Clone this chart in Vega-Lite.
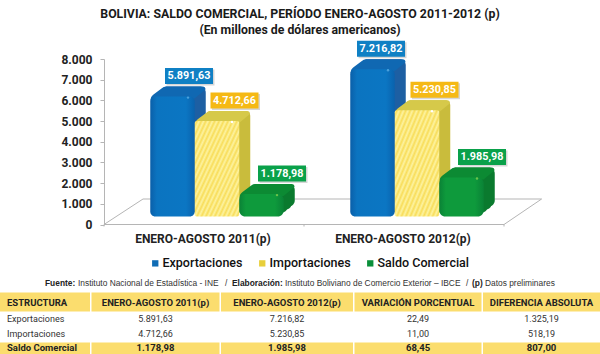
{
"$schema":"https://vega.github.io/schema/vega-lite/v6.json",
"padding":{"top":8,"left":0,"right":0,"bottom":0},
"background":"white",
"bounds":"flush",
"spacing":67.5,
"config":{"view":{"stroke":null},"font":"Roboto"},
"datasets":{
"barras":[
{"periodo":"ENERO-AGOSTO 2011(p)","serie":"Exportaciones","valor":5891.63,"etiqueta":"5.891,63"},
{"periodo":"ENERO-AGOSTO 2011(p)","serie":"Importaciones","valor":4712.66,"etiqueta":"4.712,66"},
{"periodo":"ENERO-AGOSTO 2011(p)","serie":"Saldo Comercial","valor":1178.98,"etiqueta":"1.178,98"},
{"periodo":"ENERO-AGOSTO 2012(p)","serie":"Exportaciones","valor":7216.82,"etiqueta":"7.216,82"},
{"periodo":"ENERO-AGOSTO 2012(p)","serie":"Importaciones","valor":5230.85,"etiqueta":"5.230,85"},
{"periodo":"ENERO-AGOSTO 2012(p)","serie":"Saldo Comercial","valor":1985.98,"etiqueta":"1.985,98"}
],
"tabla":[
{"fila":"h","col":"c1","t":"ESTRUCTURA"},{"fila":"a","col":"c1","t":"Exportaciones"},{"fila":"b","col":"c1","t":"Importaciones"},{"fila":"s","col":"c1","t":"Saldo Comercial"},
{"fila":"h","col":"c2","t":"ENERO-AGOSTO 2011(p)"},{"fila":"a","col":"c2","t":"5.891,63"},{"fila":"b","col":"c2","t":"4.712,66"},{"fila":"s","col":"c2","t":"1.178,98"},
{"fila":"h","col":"c3","t":"ENERO-AGOSTO 2012(p)"},{"fila":"a","col":"c3","t":"7.216,82"},{"fila":"b","col":"c3","t":"5.230,85"},{"fila":"s","col":"c3","t":"1.985,98"},
{"fila":"h","col":"c4","t":"VARIACIÓN PORCENTUAL"},{"fila":"a","col":"c4","t":"22,49"},{"fila":"b","col":"c4","t":"11,00"},{"fila":"s","col":"c4","t":"68,45"},
{"fila":"h","col":"c5","t":"DIFERENCIA ABSOLUTA"},{"fila":"a","col":"c5","t":"1.325,19"},{"fila":"b","col":"c5","t":"518,19"},{"fila":"s","col":"c5","t":"807,00"}
]},
"vconcat":[
{
"width":600,"height":165.5,
"title":{"text":["BOLIVIA: SALDO COMERCIAL, PERÍODO ENERO-AGOSTO 2011-2012 (p)","(En millones de dólares americanos)"],"anchor":"middle","frame":"group","fontSize":12.3,"fontWeight":"bold","font":"Roboto","color":"#1a1a1a","lineHeight":16,"offset":4},
"data":{"name":"barras"},
"encoding":{
"x":{"field":"periodo","type":"nominal","scale":{"type":"band","range":[117,517],"paddingInner":0,"paddingOuter":0},
"axis":{"title":null,"labelAngle":0,"labelFont":"Roboto","labelFontSize":12,"labelFontWeight":"bold","labelColor":"#222","labelOffset":-14,"labelPadding":9,"ticks":false,"domain":false,"grid":false}},
"y":{"field":"valor","type":"quantitative","scale":{"domain":[0,8000]},
"axis":{"title":null,"values":[0,1000,2000,3000,4000,5000,6000,7000,8000],"offset":-104,"labelOverlap":false,"labelExpr":"replace(format(datum.value,','),',','.')","labelFont":"Roboto","labelFontSize":12,"labelFontWeight":"bold","labelColor":"#222","grid":false,"domainColor":"#b5b5b5","tickColor":"#b5b5b5","tickSize":4,"labelPadding":8}},
"y2":{"datum":0}
},
"layer":[
{"data":{"values":[{"periodo":"ENERO-AGOSTO 2011(p)","valor":0}]},
"encoding":{"y2":null},
"mark":{"type":"point","filled":false,"size":4,"stroke":"#b5b5b5","strokeWidth":1,"opacity":1,"shape":"M-113,0L-74,-25.5L324.6,-25.5L287,0L-113,0M-113,0L-113,2M87,0L87,2M287,0L287,2"}},
{"mark":{"type":"bar","opacity":0,"width":44.5},
"encoding":{"fill":{"field":"serie","type":"nominal","sort":["Exportaciones","Importaciones","Saldo Comercial"],"scale":{"domain":["Exportaciones","Importaciones","Saldo Comercial"],"range":["#0f6cb5","#e8cf3a","#0a8f3a"]},
"legend":{"orient":"none","legendX":149,"legendY":198,"direction":"horizontal","title":null,"labelFont":"Roboto","labelFontSize":12.5,"labelFontWeight":500,"labelColor":"#111","symbolType":"square","symbolSize":40,"symbolOpacity":1,"columnPadding":13,"labelOffset":1}}}},

{"transform":[{"filter":"datum.serie=='Exportaciones'"}],"mark":{"type":"bar","width":44.5,"fill":"#1d5fa3","cornerRadius":6,"xOffset":-40.5,"yOffset":-10,"y2Offset":-12}},
{"transform":[{"filter":"datum.serie=='Exportaciones'"}],"mark":{"type":"bar","width":44.5,"fill":"#1d5fa3","cornerRadius":6,"xOffset":-36.5,"yOffset":-13,"y2Offset":-15}},
{"transform":[{"filter":"datum.serie=='Exportaciones'"}],"mark":{"type":"bar","width":44.5,"fill":"#1d5fa3","cornerRadius":6,"xOffset":-33.5,"yOffset":-16,"y2Offset":-18}},
{"transform":[{"filter":"datum.serie=='Importaciones'"}],"mark":{"type":"bar","width":44.5,"fill":"#c9bc3c","cornerRadius":5,"xOffset":4,"yOffset":-10,"y2Offset":-12}},
{"transform":[{"filter":"datum.serie=='Importaciones'"}],"mark":{"type":"bar","width":44.5,"fill":"#c9bc3c","cornerRadius":5,"xOffset":8,"yOffset":-13,"y2Offset":-15}},
{"transform":[{"filter":"datum.serie=='Importaciones'"}],"mark":{"type":"bar","width":44.5,"fill":"#c9bc3c","cornerRadius":5,"xOffset":11,"yOffset":-16,"y2Offset":-18}},
{"transform":[{"filter":"datum.serie=='Saldo Comercial'"}],"mark":{"type":"bar","width":44.5,"fill":"#0a7a2e","cornerRadius":6,"xOffset":48.5,"yOffset":-10,"y2Offset":-12}},
{"transform":[{"filter":"datum.serie=='Saldo Comercial'"}],"mark":{"type":"bar","width":44.5,"fill":"#0a7a2e","cornerRadius":6,"xOffset":52.5,"yOffset":-13,"y2Offset":-15}},
{"transform":[{"filter":"datum.serie=='Saldo Comercial'"}],"mark":{"type":"bar","width":44.5,"fill":"#0a7a2e","cornerRadius":6,"xOffset":55.5,"yOffset":-16,"y2Offset":-18}},

{"transform":[{"filter":"datum.serie=='Exportaciones'"}],"encoding":{"y2":null},"mark":{"type":"point","filled":true,"opacity":1,"size":4,"fill":"#1068b2","xOffset":-44.5,"shape":"M-22,-2Q-22,-6 -19,-8L-11,-14Q-9,-16 -6,-16L30,-16Q33,-16 33,-13L22,-4Z"}},
{"transform":[{"filter":"datum.serie=='Importaciones'"}],"encoding":{"y2":null},"mark":{"type":"point","filled":true,"opacity":1,"size":4,"fill":"#d6c94a","shape":"M-22,-2Q-22,-6 -19,-8L-11,-14Q-9,-16 -6,-16L30,-16Q33,-16 33,-13L22,-4Z"}},
{"transform":[{"filter":"datum.serie=='Saldo Comercial'"}],"encoding":{"y2":null},"mark":{"type":"point","filled":true,"opacity":1,"size":4,"fill":"#0c8a33","xOffset":44.5,"shape":"M-22,-2Q-22,-6 -19,-8L-11,-14Q-9,-16 -6,-16L30,-16Q33,-16 33,-13L22,-4Z"}},

{"transform":[{"filter":"datum.serie=='Exportaciones'"}],"mark":{"type":"bar","width":44.5,"xOffset":-44.5,"cornerRadius":5,"yOffset":-6,"y2Offset":-8,"fill":{"gradient":"linear","x1":0,"x2":1,"y1":0,"y2":0,"stops":[{"offset":0,"color":"#0a5fa9"},{"offset":0.15,"color":"#0b74c0"},{"offset":0.8,"color":"#0b76c3"},{"offset":1,"color":"#0a62ad"}]}}},
{"transform":[{"filter":"datum.serie=='Importaciones'"}],"mark":{"type":"bar","width":44.5,"cornerRadius":2,"yOffset":-6,"y2Offset":-8,"fill":{"gradient":"linear","x1":0,"x2":1,"y1":0,"y2":1,"stops":[
{"offset":0,"color":"#fdf3a0"},{"offset":0.025,"color":"#f8dd5a"},{"offset":0.05,"color":"#fdf3a0"},{"offset":0.075,"color":"#f8dd5a"},{"offset":0.1,"color":"#fdf3a0"},{"offset":0.125,"color":"#f8dd5a"},{"offset":0.15,"color":"#fdf3a0"},{"offset":0.175,"color":"#f8dd5a"},{"offset":0.2,"color":"#fdf3a0"},{"offset":0.225,"color":"#f8dd5a"},{"offset":0.25,"color":"#fdf3a0"},{"offset":0.275,"color":"#f8dd5a"},{"offset":0.3,"color":"#fdf3a0"},{"offset":0.325,"color":"#f8dd5a"},{"offset":0.35,"color":"#fdf3a0"},{"offset":0.375,"color":"#f8dd5a"},{"offset":0.4,"color":"#fdf3a0"},{"offset":0.425,"color":"#f8dd5a"},{"offset":0.45,"color":"#fdf3a0"},{"offset":0.475,"color":"#f8dd5a"},{"offset":0.5,"color":"#fdf3a0"},{"offset":0.525,"color":"#f8dd5a"},{"offset":0.55,"color":"#fdf3a0"},{"offset":0.575,"color":"#f8dd5a"},{"offset":0.6,"color":"#fdf3a0"},{"offset":0.625,"color":"#f8dd5a"},{"offset":0.65,"color":"#fdf3a0"},{"offset":0.675,"color":"#f8dd5a"},{"offset":0.7,"color":"#fdf3a0"},{"offset":0.725,"color":"#f8dd5a"},{"offset":0.75,"color":"#fdf3a0"},{"offset":0.775,"color":"#f8dd5a"},{"offset":0.8,"color":"#fdf3a0"},{"offset":0.825,"color":"#f8dd5a"},{"offset":0.85,"color":"#fdf3a0"},{"offset":0.875,"color":"#f8dd5a"},{"offset":0.9,"color":"#fdf3a0"},{"offset":0.925,"color":"#f8dd5a"},{"offset":0.95,"color":"#fdf3a0"},{"offset":0.975,"color":"#f8dd5a"},{"offset":1,"color":"#fdf3a0"}]}}},
{"transform":[{"filter":"datum.serie=='Saldo Comercial'"}],"mark":{"type":"bar","width":44.5,"xOffset":44.5,"cornerRadius":6,"yOffset":-6,"y2Offset":-8,"fill":{"gradient":"linear","x1":0,"x2":1,"y1":0,"y2":0,"stops":[{"offset":0,"color":"#0a8236"},{"offset":0.15,"color":"#0e9a3c"},{"offset":0.8,"color":"#0e9a3c"},{"offset":1,"color":"#0a8236"}]}}},

{"transform":[{"filter":"datum.serie=='Exportaciones'"}],"encoding":{"y2":null},"mark":{"type":"point","filled":true,"opacity":1,"size":6,"fill":"#4aa0dc","xOffset":-29,"yOffset":-5}},
{"transform":[{"filter":"datum.serie=='Importaciones'"}],"encoding":{"y2":null},"mark":{"type":"point","filled":true,"opacity":1,"size":6,"fill":"#ffffff","xOffset":15,"yOffset":-5}},
{"transform":[{"filter":"datum.serie=='Saldo Comercial'"}],"encoding":{"y2":null},"mark":{"type":"point","filled":true,"opacity":1,"size":6,"fill":"#6cc24a","xOffset":60,"yOffset":-5}},

{"transform":[{"filter":"datum.serie=='Exportaciones'&&datum.valor<7000"}],"encoding":{"y2":null},"mark":{"type":"point","filled":true,"opacity":0.35,"size":4,"fill":"#8a8a8a","xOffset":-26.5,"yOffset":-25,"shape":"M-24,-8H24V8H-24Z"}},
{"transform":[{"filter":"datum.serie=='Exportaciones'&&datum.valor>7000"}],"encoding":{"y2":null},"mark":{"type":"point","filled":true,"opacity":0.35,"size":4,"fill":"#8a8a8a","xOffset":-34.5,"yOffset":-25,"shape":"M-24,-8H24V8H-24Z"}},
{"transform":[{"filter":"datum.serie=='Importaciones'"}],"encoding":{"y2":null},"mark":{"type":"point","filled":true,"opacity":0.35,"size":4,"fill":"#8a8a8a","xOffset":19,"yOffset":-25,"shape":"M-24,-8H24V8H-24Z"}},
{"transform":[{"filter":"datum.serie=='Saldo Comercial'"}],"encoding":{"y2":null},"mark":{"type":"point","filled":true,"opacity":0.35,"size":4,"fill":"#8a8a8a","xOffset":66.5,"yOffset":-25,"shape":"M-24,-8H24V8H-24Z"}},

{"transform":[{"filter":"datum.serie=='Exportaciones'&&datum.valor<7000"}],"encoding":{"y2":null},"mark":{"type":"point","filled":true,"opacity":1,"size":4,"fill":"#0f80c4","xOffset":-28,"yOffset":-26.5,"shape":"M-24,-8H24V8H-24Z"}},
{"transform":[{"filter":"datum.serie=='Exportaciones'&&datum.valor>7000"}],"encoding":{"y2":null},"mark":{"type":"point","filled":true,"opacity":1,"size":4,"fill":"#0f80c4","xOffset":-36,"yOffset":-26.5,"shape":"M-24,-8H24V8H-24Z"}},
{"transform":[{"filter":"datum.serie=='Importaciones'"}],"encoding":{"y2":null},"mark":{"type":"point","filled":true,"opacity":1,"size":4,"fill":"#f5b915","xOffset":17.5,"yOffset":-26.5,"shape":"M-24,-8H24V8H-24Z"}},
{"transform":[{"filter":"datum.serie=='Saldo Comercial'"}],"encoding":{"y2":null},"mark":{"type":"point","filled":true,"opacity":1,"size":4,"fill":"#0aa14a","xOffset":65,"yOffset":-26.5,"shape":"M-24,-8H24V8H-24Z"}},

{"transform":[{"filter":"datum.serie=='Exportaciones'&&datum.valor<7000"}],"encoding":{"y2":null,"text":{"field":"etiqueta"}},"mark":{"type":"text","fontSize":10.8,"fontWeight":"bold","fill":"white","xOffset":-28,"yOffset":-26.5,"baseline":"middle"}},
{"transform":[{"filter":"datum.serie=='Exportaciones'&&datum.valor>7000"}],"encoding":{"y2":null,"text":{"field":"etiqueta"}},"mark":{"type":"text","fontSize":10.8,"fontWeight":"bold","fill":"white","xOffset":-36,"yOffset":-26.5,"baseline":"middle"}},
{"transform":[{"filter":"datum.serie=='Importaciones'"}],"encoding":{"y2":null,"text":{"field":"etiqueta"}},"mark":{"type":"text","fontSize":10.8,"fontWeight":"bold","fill":"white","xOffset":17.5,"yOffset":-26.5,"baseline":"middle"}},
{"transform":[{"filter":"datum.serie=='Saldo Comercial'"}],"encoding":{"y2":null,"text":{"field":"etiqueta"}},"mark":{"type":"text","fontSize":10.8,"fontWeight":"bold","fill":"white","xOffset":65,"yOffset":-26.5,"baseline":"middle"}},

{"data":{"values":[{"periodo":"ENERO-AGOSTO 2011(p)","valor":0,"t":"Fuente:"}]},"encoding":{"y2":null,"text":{"field":"t"}},"mark":{"type":"text","font":"Liberation Sans","fontSize":8.4,"fontWeight":"bold","align":"left","fill":"#222","xOffset":-172,"yOffset":58.8,"baseline":"middle"}},
{"data":{"values":[{"periodo":"ENERO-AGOSTO 2011(p)","valor":0,"t":"Instituto Nacional de Estadística - INE"}]},"encoding":{"y2":null,"text":{"field":"t"}},"mark":{"type":"text","font":"Liberation Sans","fontSize":8.4,"align":"left","fill":"#333","xOffset":-139,"yOffset":58.8,"baseline":"middle"}},
{"data":{"values":[{"periodo":"ENERO-AGOSTO 2011(p)","valor":0,"t":"/"}]},"encoding":{"y2":null,"text":{"field":"t"}},"mark":{"type":"text","font":"Liberation Sans","fontSize":8.4,"align":"left","fill":"#333","xOffset":8,"yOffset":58.8,"baseline":"middle"}},
{"data":{"values":[{"periodo":"ENERO-AGOSTO 2011(p)","valor":0,"t":"Elaboración:"}]},"encoding":{"y2":null,"text":{"field":"t"}},"mark":{"type":"text","font":"Liberation Sans","fontSize":8.4,"fontWeight":"bold","align":"left","fill":"#222","xOffset":15,"yOffset":58.8,"baseline":"middle"}},
{"data":{"values":[{"periodo":"ENERO-AGOSTO 2011(p)","valor":0,"t":"Instituto Boliviano de Comercio Exterior – IBCE"}]},"encoding":{"y2":null,"text":{"field":"t"}},"mark":{"type":"text","font":"Liberation Sans","fontSize":8.4,"align":"left","fill":"#333","xOffset":68,"yOffset":58.8,"baseline":"middle"}},
{"data":{"values":[{"periodo":"ENERO-AGOSTO 2011(p)","valor":0,"t":"/"}]},"encoding":{"y2":null,"text":{"field":"t"}},"mark":{"type":"text","font":"Liberation Sans","fontSize":8.4,"align":"left","fill":"#333","xOffset":249,"yOffset":58.8,"baseline":"middle"}},
{"data":{"values":[{"periodo":"ENERO-AGOSTO 2011(p)","valor":0,"t":"(p)"}]},"encoding":{"y2":null,"text":{"field":"t"}},"mark":{"type":"text","font":"Liberation Sans","fontSize":8.4,"fontWeight":"bold","align":"left","fill":"#222","xOffset":255,"yOffset":58.8,"baseline":"middle"}},
{"data":{"values":[{"periodo":"ENERO-AGOSTO 2011(p)","valor":0,"t":"Datos preliminares"}]},"encoding":{"y2":null,"text":{"field":"t"}},"mark":{"type":"text","font":"Liberation Sans","fontSize":8.4,"align":"left","fill":"#333","xOffset":268,"yOffset":58.8,"baseline":"middle"}}
]
},
{
"spacing":1.5,"bounds":"flush",
"hconcat":[
{"width":90,"height":61,"data":{"name":"tabla"},"transform":[{"filter":"datum.col=='c1'"}],
"encoding":{"y":{"field":"fila","type":"nominal","scale":{"type":"point","padding":0,"domain":["h","a","b","s"],"range":[12,55.5]},"axis":null}},
"layer":[
{"transform":[{"filter":"datum.fila=='h'"}],"mark":{"type":"rect","fill":"#fbdd6e","height":19,"yOffset":-2.5}},
{"transform":[{"filter":"datum.fila=='s'"}],"mark":{"type":"rect","fill":"#fbdd6e","height":11.4,"yOffset":0.3}},
{"transform":[{"filter":"datum.fila=='h'"}],"mark":{"type":"text","align":"left","xOffset":-38,"yOffset":-2,"fontSize":9.5,"fontWeight":"bold","baseline":"middle","fill":"#222"},"encoding":{"text":{"field":"t"}}},
{"transform":[{"filter":"datum.fila=='s'"}],"mark":{"type":"text","align":"left","xOffset":-38,"fontSize":9.5,"fontWeight":"bold","baseline":"middle","fill":"#222"},"encoding":{"text":{"field":"t"}}},
{"transform":[{"filter":"datum.fila=='a'||datum.fila=='b'"}],"mark":{"type":"text","align":"left","xOffset":-38,"fontSize":9,"baseline":"middle","fill":"#333"},"encoding":{"text":{"field":"t"}}}
]},
{"width":128,"height":61,"data":{"name":"tabla"},"transform":[{"filter":"datum.col=='c2'"}],
"encoding":{"y":{"field":"fila","type":"nominal","scale":{"type":"point","padding":0,"domain":["h","a","b","s"],"range":[12,55.5]},"axis":null}},
"layer":[
{"transform":[{"filter":"datum.fila=='h'"}],"mark":{"type":"rect","fill":"#fbdd6e","height":19,"yOffset":-2.5}},
{"transform":[{"filter":"datum.fila=='s'"}],"mark":{"type":"rect","fill":"#fbdd6e","height":11.4,"yOffset":0.3}},
{"transform":[{"filter":"datum.fila=='h'"}],"mark":{"type":"text","yOffset":-2,"fontSize":9.5,"fontWeight":"bold","baseline":"middle","fill":"#222"},"encoding":{"text":{"field":"t"}}},
{"transform":[{"filter":"datum.fila=='s'"}],"mark":{"type":"text","fontSize":9.5,"fontWeight":"bold","baseline":"middle","fill":"#222"},"encoding":{"text":{"field":"t"}}},
{"transform":[{"filter":"datum.fila=='a'||datum.fila=='b'"}],"mark":{"type":"text","fontSize":9,"baseline":"middle","fill":"#333"},"encoding":{"text":{"field":"t"}}}
]},
{"width":132,"height":61,"data":{"name":"tabla"},"transform":[{"filter":"datum.col=='c3'"}],
"encoding":{"y":{"field":"fila","type":"nominal","scale":{"type":"point","padding":0,"domain":["h","a","b","s"],"range":[12,55.5]},"axis":null}},
"layer":[
{"transform":[{"filter":"datum.fila=='h'"}],"mark":{"type":"rect","fill":"#fbdd6e","height":19,"yOffset":-2.5}},
{"transform":[{"filter":"datum.fila=='s'"}],"mark":{"type":"rect","fill":"#fbdd6e","height":11.4,"yOffset":0.3}},
{"transform":[{"filter":"datum.fila=='h'"}],"mark":{"type":"text","yOffset":-2,"fontSize":9.5,"fontWeight":"bold","baseline":"middle","fill":"#222"},"encoding":{"text":{"field":"t"}}},
{"transform":[{"filter":"datum.fila=='s'"}],"mark":{"type":"text","fontSize":9.5,"fontWeight":"bold","baseline":"middle","fill":"#222"},"encoding":{"text":{"field":"t"}}},
{"transform":[{"filter":"datum.fila=='a'||datum.fila=='b'"}],"mark":{"type":"text","fontSize":9,"baseline":"middle","fill":"#333"},"encoding":{"text":{"field":"t"}}}
]},
{"width":127,"height":61,"data":{"name":"tabla"},"transform":[{"filter":"datum.col=='c4'"}],
"encoding":{"y":{"field":"fila","type":"nominal","scale":{"type":"point","padding":0,"domain":["h","a","b","s"],"range":[12,55.5]},"axis":null}},
"layer":[
{"transform":[{"filter":"datum.fila=='h'"}],"mark":{"type":"rect","fill":"#fbdd6e","height":19,"yOffset":-2.5}},
{"transform":[{"filter":"datum.fila=='s'"}],"mark":{"type":"rect","fill":"#fbdd6e","height":11.4,"yOffset":0.3}},
{"transform":[{"filter":"datum.fila=='h'"}],"mark":{"type":"text","yOffset":-2,"fontSize":9.5,"fontWeight":"bold","baseline":"middle","fill":"#222"},"encoding":{"text":{"field":"t"}}},
{"transform":[{"filter":"datum.fila=='s'"}],"mark":{"type":"text","fontSize":9.5,"fontWeight":"bold","baseline":"middle","fill":"#222"},"encoding":{"text":{"field":"t"}}},
{"transform":[{"filter":"datum.fila=='a'||datum.fila=='b'"}],"mark":{"type":"text","fontSize":9,"baseline":"middle","fill":"#333"},"encoding":{"text":{"field":"t"}}}
]},
{"width":117,"height":61,"data":{"name":"tabla"},"transform":[{"filter":"datum.col=='c5'"}],
"encoding":{"y":{"field":"fila","type":"nominal","scale":{"type":"point","padding":0,"domain":["h","a","b","s"],"range":[12,55.5]},"axis":null}},
"layer":[
{"transform":[{"filter":"datum.fila=='h'"}],"mark":{"type":"rect","fill":"#fbdd6e","height":19,"yOffset":-2.5}},
{"transform":[{"filter":"datum.fila=='s'"}],"mark":{"type":"rect","fill":"#fbdd6e","height":11.4,"yOffset":0.3}},
{"transform":[{"filter":"datum.fila=='h'"}],"mark":{"type":"text","yOffset":-2,"fontSize":9.5,"fontWeight":"bold","baseline":"middle","fill":"#222"},"encoding":{"text":{"field":"t"}}},
{"transform":[{"filter":"datum.fila=='s'"}],"mark":{"type":"text","fontSize":9.5,"fontWeight":"bold","baseline":"middle","fill":"#222"},"encoding":{"text":{"field":"t"}}},
{"transform":[{"filter":"datum.fila=='a'||datum.fila=='b'"}],"mark":{"type":"text","fontSize":9,"baseline":"middle","fill":"#333"},"encoding":{"text":{"field":"t"}}}
]}
]
}
]
}
